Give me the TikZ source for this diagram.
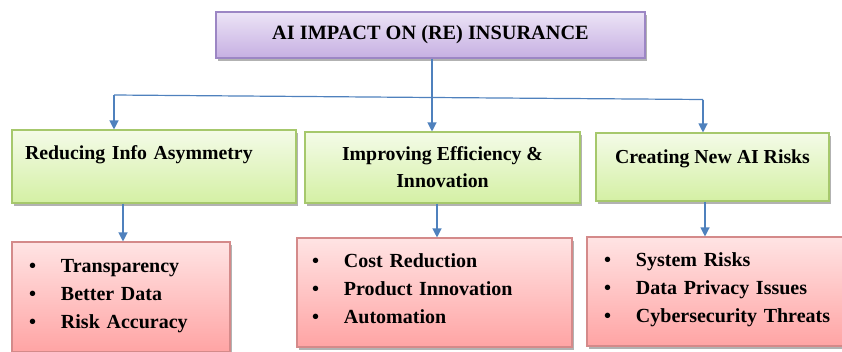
\documentclass[tikz,border=0pt]{standalone}
\usepackage{fontspec}
\setmainfont{Liberation Serif}
\usetikzlibrary{shapes,shadows,arrows.meta}

\definecolor{linkblue}{HTML}{4F81BD}
\definecolor{titletop}{HTML}{ECE4F6}
\definecolor{titlebottom}{HTML}{C6AFE2}
\definecolor{titleline}{HTML}{9C86C4}
\definecolor{greentop}{HTML}{F4FBE8}
\definecolor{greenbottom}{HTML}{D4F0A4}
\definecolor{greenline}{HTML}{A6C86C}
\definecolor{redtop}{HTML}{FFE4E4}
\definecolor{redbottom}{HTML}{FFA4A4}
\definecolor{redline}{HTML}{D48A8A}

\newcommand\point[1]{\mbox{\makebox[32pt][l]{\textbullet}#1}}

\tikzset{
  box/.style={shape=rectangle,line width=1.1pt,
    drop shadow={shadow xshift=2pt,shadow yshift=-2.5pt,opacity=0.3,fill=black}},
  titlebox/.style={box,draw=titleline,top color=titletop,bottom color=titlebottom,
    font=\bfseries\fontsize{20.3}{24}\selectfont},
  groupbox/.style={box,draw=greenline,top color=greentop,bottom color=greenbottom,
    font=\bfseries\fontsize{19.8}{27}\selectfont},
  listbox/.style={box,draw=redline,top color=redtop,bottom color=redbottom,align=left,
    text depth=63pt,font=\bfseries\fontsize{20}{28}\selectfont},
  link/.style={draw=linkblue,line width=1.2pt},
  arrow/.style={link,-{Triangle[length=9pt,width=9pt]}}
}

\begin{document}
\begin{tikzpicture}[x=1pt,y=-1pt]
\useasboundingbox (0,0) rectangle (842,351);

\node[titlebox,minimum width=429pt,minimum height=46pt] (title) at (430.5,35) {AI IMPACT ON (RE) INSURANCE};

\node[groupbox,align=left,text width=258pt,inner xsep=13pt,minimum height=73pt] (reduce) at (154,166.5) {Reducing Info Asymmetry\\[-7pt]\strut};
\node[groupbox,align=center,minimum width=275pt,minimum height=71pt] (improve) at (442.5,167.5) {Improving Efficiency \&\\Innovation};
\node[groupbox,align=center,minimum width=233pt,minimum height=68pt] (create) at (712.5,167) {Creating New AI Risks\\[-14pt]\strut};

\node[listbox,text width=184pt,inner xsep=17pt,minimum height=110pt] (gains) at (121,297) {\point{Transparency}\\\point{Better Data}\\\point{Risk Accuracy}};
\node[listbox,text width=245pt,inner xsep=15pt,minimum height=109pt] (savings) at (434.5,292.5) {\point{Cost Reduction}\\\point{Product Innovation}\\\point{Automation}};
\node[listbox,text width=225pt,inner xsep=17pt,minimum height=109pt] (threats) at (716.5,291.5) {\point{System Risks}\\\point{Data Privacy Issues}\\\point{Cybersecurity Threats}};

\coordinate (hub) at (432,97.5);
\coordinate (fork1) at (114,95);
\coordinate (fork3) at (703,99.5);
\coordinate (drop1) at (123,0);
\coordinate (drop2) at (437,0);
\coordinate (drop3) at (705,0);

\draw[link] (title.south -| hub) -- (hub);
\draw[link] (fork1) -- (hub) -- (fork3);
\draw[arrow] (fork1) -- (fork1 |- reduce.north);
\draw[arrow] (hub) -- (hub |- improve.north);
\draw[arrow] (fork3) -- (fork3 |- create.north);

\draw[arrow] (drop1 |- reduce.south) -- (drop1 |- gains.north);
\draw[arrow] (drop2 |- improve.south) -- (drop2 |- savings.north);
\draw[arrow] (drop3 |- create.south) -- (drop3 |- threats.north);
\end{tikzpicture}
\end{document}
